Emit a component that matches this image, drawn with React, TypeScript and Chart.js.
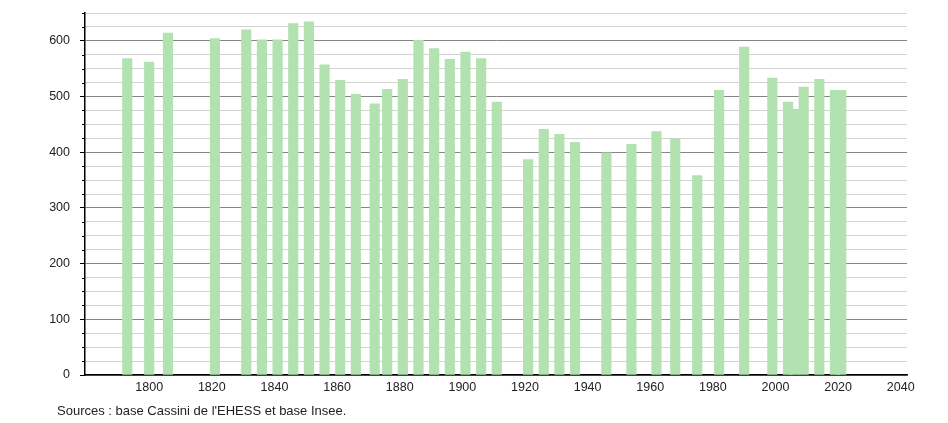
import React, { useEffect, useRef } from "react";
import { Chart, registerables } from "chart.js";

Chart.register(...registerables);

const years = [
  1793, 1800, 1806, 1821, 1831, 1836, 1841, 1846, 1851, 1856, 1861, 1866,
  1872, 1876, 1881, 1886, 1891, 1896, 1901, 1906, 1911, 1921, 1926, 1931,
  1936, 1946, 1954, 1962, 1968, 1975, 1982, 1990, 1999, 2004, 2006, 2009,
  2014, 2019, 2021,
];
const population = [
  568, 562, 614, 604, 620, 602, 602, 631, 634, 557, 529, 504,
  487, 513, 531, 601, 586, 567, 580, 568, 490, 387, 441, 432,
  418, 399, 414, 437, 424, 358, 511, 589, 533, 490, 477, 517,
  531, 511, 511,
];
const xTickYears = [1800, 1820, 1840, 1860, 1880, 1900, 1920, 1940, 1960, 1980, 2000, 2020, 2040];
const yMajorStep = 100;
const yMinorStep = 25;
const yMax = 650;
const sourceText = "Sources : base Cassini de l'EHESS et base Insee.";

const FONT = "'Liberation Sans', Arial, Helvetica, sans-serif";

const minorTicks = {
  id: "minorTicks",
  afterDraw(chart: any) {
    const y = chart.scales.y;
    const ctx = chart.ctx;
    ctx.save();
    ctx.strokeStyle = "#000";
    ctx.lineWidth = 1;
    y.ticks.forEach((t: any) => {
      if (t.value % yMajorStep !== 0) {
        const py = Math.round(y.getPixelForValue(t.value)) + 0.5;
        ctx.beginPath();
        ctx.moveTo(y.right - 3, py);
        ctx.lineTo(y.right, py);
        ctx.stroke();
      }
    });
    ctx.restore();
  },
};

export default function App() {
  const ref = useRef<HTMLCanvasElement>(null);

  useEffect(() => {
    if (!ref.current) return;
    const chart = new Chart(ref.current, {
      type: "bar",
      data: {
        datasets: [
          {
            data: years.map((yr, i) => ({ x: yr, y: population[i] })),
            backgroundColor: "rgb(178, 226, 176)",
            borderWidth: 0,
            barThickness: 9.5,
          },
        ],
      },
      plugins: [minorTicks],
      options: {
        responsive: false,
        animation: false,
        layout: { padding: { left: 0, top: 13, right: 41, bottom: 0 } },
        plugins: {
          legend: { display: false },
          tooltip: { enabled: false },
          title: { display: false },
        },
        scales: {
          x: {
            type: "linear",
            min: 1779.5,
            max: 2042,
            offset: false,
            grid: { display: false, drawTicks: false, offset: false },
            border: { display: true, color: "#000", width: 1.5 },
            afterBuildTicks: (scale: any) => {
              scale.ticks = xTickYears.map((v) => ({ value: v }));
            },
            afterFit: (scale: any) => {
              scale.height = 48;
              scale.paddingLeft = 0;
              scale.paddingRight = 0;
            },
            ticks: {
              padding: 5,
              maxRotation: 0,
              autoSkip: false,
              color: "#222",
              font: { family: FONT, size: 12.5 },
              callback: (v: any) => String(v),
            },
          },
          y: {
            type: "linear",
            min: 0,
            max: yMax,
            afterFit: (scale: any) => {
              scale.width = 85;
              scale.paddingTop = 0;
              scale.paddingBottom = 0;
            },
            grid: {
              color: (c: any) =>
                c.tick && c.tick.value % yMajorStep === 0 ? "#858585" : "#d2d2d2",
              lineWidth: 1,
              tickLength: 5,
              tickColor: (c: any) =>
                c.tick && c.tick.value % yMajorStep === 0 ? "#000" : "rgba(0,0,0,0)",
            },
            border: { display: true, color: "#000", width: 1.5 },
            ticks: {
              stepSize: yMinorStep,
              padding: 10,
              autoSkip: false,
              color: "#222",
              font: { family: FONT, size: 12.5 },
              callback: (v: any) => (Number(v) % yMajorStep === 0 ? String(v) : ""),
            },
          },
        },
      },
    });
    return () => chart.destroy();
  }, []);

  return (
    <div
      style={{
        position: "fixed",
        left: 0,
        top: 0,
        width: 948,
        height: 423,
        background: "#fff",
      }}
    >
      <canvas ref={ref} width={948} height={423} style={{ width: 948, height: 423 }} />
      <div
        style={{
          position: "absolute",
          left: 57,
          top: 404,
          fontFamily: FONT,
          fontSize: 13,
          lineHeight: "14px",
          color: "#222",
          whiteSpace: "nowrap",
        }}
      >
        {sourceText}
      </div>
    </div>
  );
}
